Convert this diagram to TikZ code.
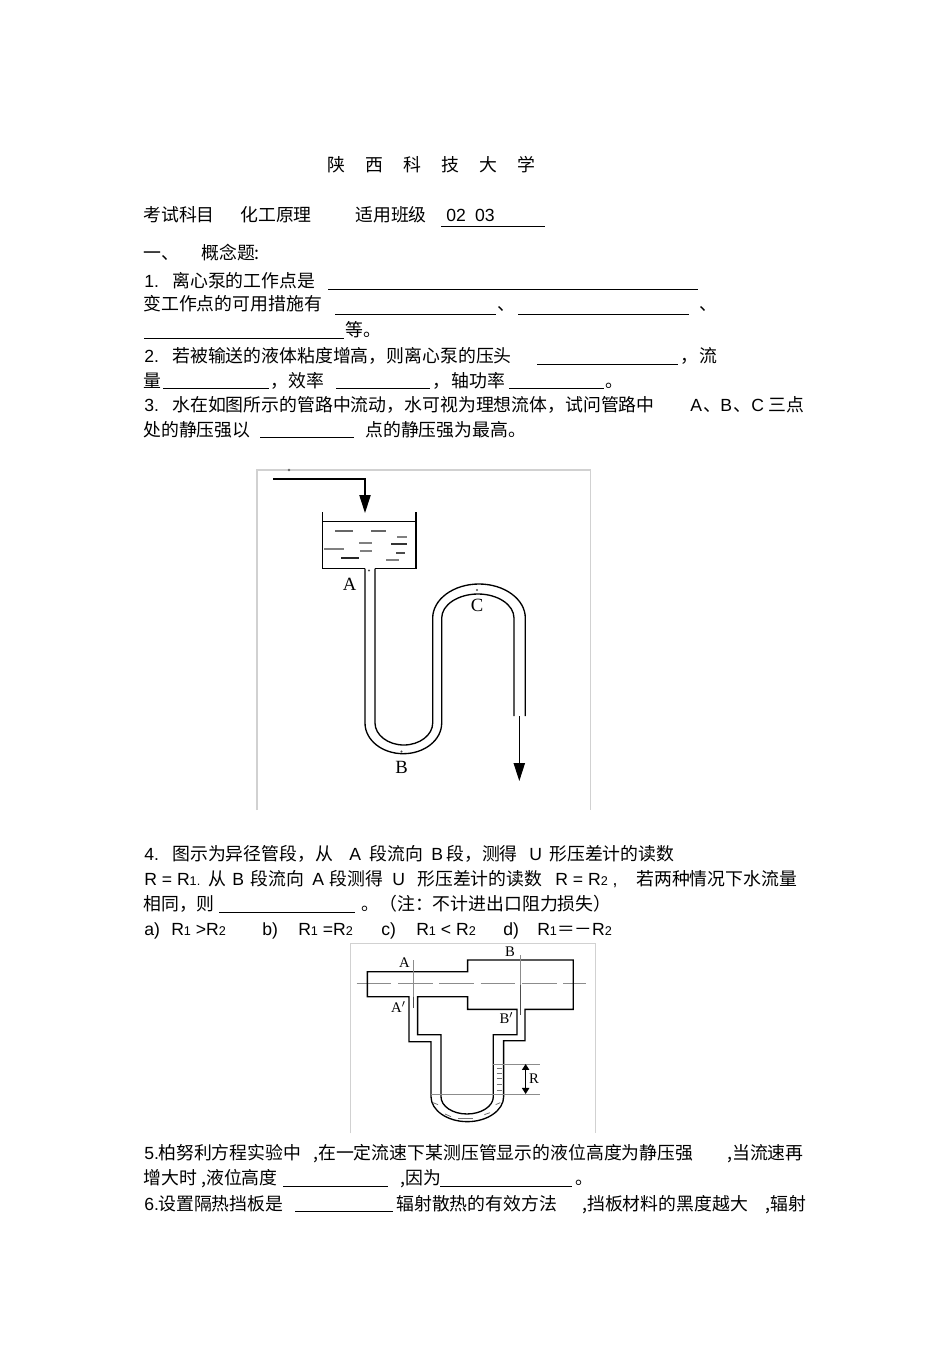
\documentclass[tikz,border=0pt]{standalone}
\usepackage{fontspec}
\setmainfont{Liberation Sans}
\newfontfamily\cjk{Noto Sans CJK SC}
\newfontfamily\lbfont{Liberation Serif}
\usetikzlibrary{arrows.meta}
\newcommand{\sm}[1]{{\fontsize{9.5}{10}\selectfont #1}}
\tikzset{
    latin/.style={font=\fontsize{13.2}{15}\selectfont},
    blank/.style={black,line width=0.75pt},
    wall/.style={black,line width=1pt},
    frame/.style={black!18,line width=0.8pt},
    thinline/.style={black!45,line width=0.7pt},
    bighead/.style={-{Triangle[length=13.5pt,width=8.5pt]},black,line width=0.8pt},
    figa/.style={anchor=center,font=\fontsize{14}{16}\selectfont\lbfont},
    figb/.style={anchor=center,font=\fontsize{11}{13}\selectfont\lbfont}
}
\begin{document}
\begin{tikzpicture}[x=0.75pt,y=-0.75pt,every node/.style={anchor=base west,inner sep=0pt,font=\fontsize{13.4}{15}\selectfont\cjk}]
    \useasboundingbox (0,0) rectangle (950,1345);

    % heading
    \node at (327, 171) (title) {陕\hspace{15.2pt}西\hspace{15.2pt}科\hspace{15.2pt}技\hspace{15.2pt}大\hspace{15.2pt}学};
    \node at (143, 221) (subj) {考试科目};
    \node at (240, 221) (course) {化工原理};
    \node at (355, 221) (cls) {适用班级};
    \node[latin] at (446, 221) (clsno) {02\hspace{7pt}03};
    \draw[blank] (441, 226) -- (545, 226);
    \node at (143, 259) (part) {一、};
    \node at (201, 259) (parttitle) {概念题:};

    % question 1
    \node[latin] at (144, 287) (q1no) {1.};
    \node at (172, 287) (q1a) {离心泵的工作点是};
    \draw[blank] (328, 289) -- (698, 289);
    \node at (143, 310) (q1b) {变工作点的可用措施有};
    \draw[blank] (335, 314) -- (496, 314);
    \node at (497, 310) (q1c) {、};
    \draw[blank] (518, 314) -- (689, 314);
    \node at (699, 310) (q1d) {、};
    \draw[blank] (144, 338) -- (344, 338);
    \node at (345, 336) (q1e) {等。};

    % question 2
    \node[latin] at (144, 362) (q2no) {2.};
    \node at (172, 362) (q2a) {若被输送的液体粘度增高，则离心泵的压头};
    \draw[blank] (537, 364) -- (678, 364);
    \node at (680, 362) (q2b) {，};
    \node at (699, 362) (q2c) {流};
    \node at (143, 387) (q2d) {量};
    \draw[blank] (163, 388) -- (269, 388);
    \node at (270, 387) (q2e) {，};
    \node at (288, 387) (q2f) {效率};
    \draw[blank] (336, 388) -- (430, 388);
    \node at (432, 387) (q2g) {，};
    \node at (451, 387) (q2h) {轴功率};
    \draw[blank] (509, 388) -- (604, 388);
    \node at (605, 387) (q2i) {。};

    % question 3
    \node[latin] at (144, 411) (q3no) {3.};
    \node at (172, 411) (q3a) {水在如图所示的管路中流动，水可视为理想流体，试问管路中};
    \node[latin] at (690, 411) (q3b) {A};
    \node at (703, 411) (q3c) {、};
    \node[latin] at (720, 411) (q3d) {B};
    \node at (733, 411) (q3e) {、};
    \node[latin] at (751, 411) (q3f) {C};
    \node at (768, 411) (q3g) {三点};
    \node at (143, 436) (q3h) {处的静压强以};
    \draw[blank] (260, 437) -- (354, 437);
    \node at (365, 436) (q3i) {点的静压强为最高。};

    % tank and pipe
    \draw[frame] (257, 810) -- (257, 470) -- (590.5, 470) -- (590.5, 810);
    \fill[black!60] (289, 470) circle (1pt);
    \coordinate (feedA) at (273, 479);
    \coordinate (feedB) at (365, 479);
    \coordinate (feedC) at (365, 513);
    \draw[bighead] (feedA) -- (feedB) -- (feedC);
    \draw[wall] (322.7, 512) -- (322.7, 568.7) -- (365, 568.7);
    \draw[wall] (375, 568.7) -- (416, 568.7) -- (416, 512);
    \draw[black,line width=0.7pt] (322.7, 521.7) -- (416, 521.7);
    \foreach \xa/\xb/\yy/\gr in {335/353/531/60, 371/386/531/60, 397/407/537/50, 359/372/543/50, 391/407/544/80, 324/344/549/50, 360/372/551/50, 396/405/553/70, 341/359/558/85, 386/399/560/50}
        \draw[black!\gr,line width=0.8pt] (\xa, \yy) -- (\xb, \yy);
    \draw[wall] (365, 568.7) -- (365, 723) .. controls (365, 740) and (382, 753.7) .. (403.3, 753.7) .. controls (424.5, 753.7) and (441.7, 740) .. (441.7, 723)
        -- (441.7, 618) .. controls (441.7, 604.8) and (458.2, 594) .. (478, 594) .. controls (497.8, 594) and (514, 604.8) .. (514, 618) -- (514, 716);
    \draw[wall] (375, 568.7) -- (375, 723) .. controls (375, 735) and (388, 745) .. (403.8, 745) .. controls (419.6, 745) and (432.7, 735) .. (432.7, 723)
        -- (432.7, 618) .. controls (432.7, 599.3) and (453.5, 584) .. (479, 584) .. controls (504.5, 584) and (525.3, 599.3) .. (525.3, 618) -- (525.3, 716);
    \coordinate (outA) at (519.3, 716);
    \coordinate (outB) at (519.3, 781);
    \draw[bighead] (outA) -- (outB);
    \fill[black!70] (369, 570.5) circle (0.9pt);
    \fill[black!70] (401.5, 751.5) circle (0.9pt);
    \fill[black!70] (477, 590) circle (0.9pt);
    \node[figa] at (349.5, 584) (ptA) {A};
    \node[figa] at (401.7, 767) (ptB) {B};
    \node[figa] at (477, 605) (ptC) {C};

    % question 4
    \node[latin] at (144, 860) (q4no) {4.};
    \node at (172, 860) (q4a) {图示为异径管段，从};
    \node[latin] at (349, 860) (q4b) {A};
    \node at (369, 860) (q4c) {段流向};
    \node[latin] at (431, 860) (q4d) {B};
    \node at (446, 860) (q4e) {段，测得};
    \node[latin] at (529, 860) (q4f) {U};
    \node at (549, 860) (q4g) {形压差计的读数};
    \node[latin] at (144, 885) (q4h) {R = R\sm{1.}};
    \node at (208, 885) (q4i) {从};
    \node[latin] at (232, 885) (q4j) {B};
    \node at (250, 885) (q4k) {段流向};
    \node[latin] at (312, 885) (q4l) {A};
    \node at (329, 885) (q4m) {段测得};
    \node[latin] at (392, 885) (q4n) {U};
    \node at (417, 885) (q4o) {形压差计的读数};
    \node[latin] at (555, 885) (q4p) {R = R\sm{2} ,};
    \node at (636, 885) (q4q) {若两种情况下水流量};
    \node at (143, 910) (q4r) {相同，则};
    \draw[blank] (219, 912) -- (355, 912);
    \node at (361, 910) (q4s) {。};
    \node at (379, 910) (q4t) {（注：不计进出口阻力损失）};
    \node[latin] at (144, 935) (ansa) {a)};
    \node[latin] at (171, 935) (ansb) {R\sm{1} >R\sm{2}};
    \node[latin] at (262, 935) (ansc) {b)};
    \node[latin] at (298, 935) (ansd) {R\sm{1} =R\sm{2}};
    \node[latin] at (381, 935) (anse) {c)};
    \node[latin] at (416, 935) (ansf) {R\sm{1} < R\sm{2}};
    \node[latin] at (503, 935) (ansg) {d)};
    \node[latin] at (537, 935) (ansh) {R\sm{1}{\cjk ＝－}R\sm{2}};

    % reducer with u-tube, in zoom units
    \begin{scope}[shift={(345,940)},scale=0.3333]
        \draw[frame] (16, 580) -- (16, 10) -- (752, 10) -- (752, 580);
        \draw[black!45,line width=0.7pt,dash pattern=on 26pt off 5pt] (35, 130) -- (722, 130);
        \draw[wall] (67, 95) -- (368, 95) -- (368, 60) -- (685, 60) -- (685, 208) -- (540, 208) -- (540, 302) -- (476, 302) -- (476, 470)
            .. controls (476, 511) and (427, 545) .. (367, 545) .. controls (307, 545) and (258, 511) .. (258, 470)
            -- (258, 305) -- (192, 305) -- (192, 170) -- (67, 170) -- cycle;
        \draw[wall] (218, 170) -- (368, 170) -- (368, 208) -- (516, 208) -- (516, 284) -- (445, 284) -- (445, 470)
            .. controls (445, 499) and (409, 522) .. (366, 522) .. controls (323, 522) and (288, 499) .. (288, 470)
            -- (288, 284) -- (218, 284) -- cycle;
        \draw[thinline] (204, 60) -- (204, 170);
        \draw[black!70,line width=0.7pt] (204, 170) -- (204, 205);
        \draw[thinline] (527, 45) -- (527, 135);
        \draw[black!70,line width=0.7pt] (525, 135) -- (525, 225);
        \draw[thinline] (445, 372) -- (585, 372);
        \draw[thinline] (258, 462) -- (585, 462);
        \coordinate (dimA) at (542, 372);
        \coordinate (dimB) at (542, 462);
        \draw[{Triangle[length=4.5pt,width=5.5pt]}-{Triangle[length=4.5pt,width=5.5pt]},black,line width=0.7pt] (dimA) -- (dimB);
        \foreach \xa/\xb/\ya/\yb in {455/471/385/385, 455/471/400/400, 455/471/416/416, 455/471/434/434, 455/471/450/450, 264/279/488/494, 300/318/522/530, 340/385/534/534, 418/435/524/518, 452/466/494/488}
            \draw[black!55,line width=0.6pt] (\xa, \ya) -- (\xb, \yb);
        \node[figb] at (178, 68) (secA) {A};
        \node[figb] at (160, 202) (secAp) {A$'$};
        \node[figb] at (495, 36) (secB) {B};
        \node[figb] at (484, 234) (secBp) {B$'$};
        \node[figb] at (567, 417) (dimR) {R};
    \end{scope}

    % questions 5 and 6
    \node[latin] at (144, 1159) (q5no) {5.};
    \node at (158, 1159) (q5a) {柏努利方程实验中};
    \node at (313, 1159) (q5b) {,在一定流速下某测压管显示的液位高度为静压强};
    \node at (727, 1159) (q5c) {,当流速再};
    \node at (143, 1184) (q5d) {增大时};
    \node at (201, 1184) (q5e) {,液位高度};
    \draw[blank] (283, 1186) -- (388, 1186);
    \node at (400, 1184) (q5f) {,因为};
    \draw[blank] (440, 1186) -- (572, 1186);
    \node at (575, 1184) (q5g) {。};
    \node[latin] at (144, 1210) (q6no) {6.};
    \node at (158, 1210) (q6a) {设置隔热挡板是};
    \draw[blank] (295, 1211) -- (393, 1211);
    \node at (396, 1210) (q6b) {辐射散热的有效方法};
    \node at (582, 1210) (q6c) {,挡板材料的黑度越大};
    \node at (765, 1210) (q6d) {,辐射};
\end{tikzpicture}
\end{document}
